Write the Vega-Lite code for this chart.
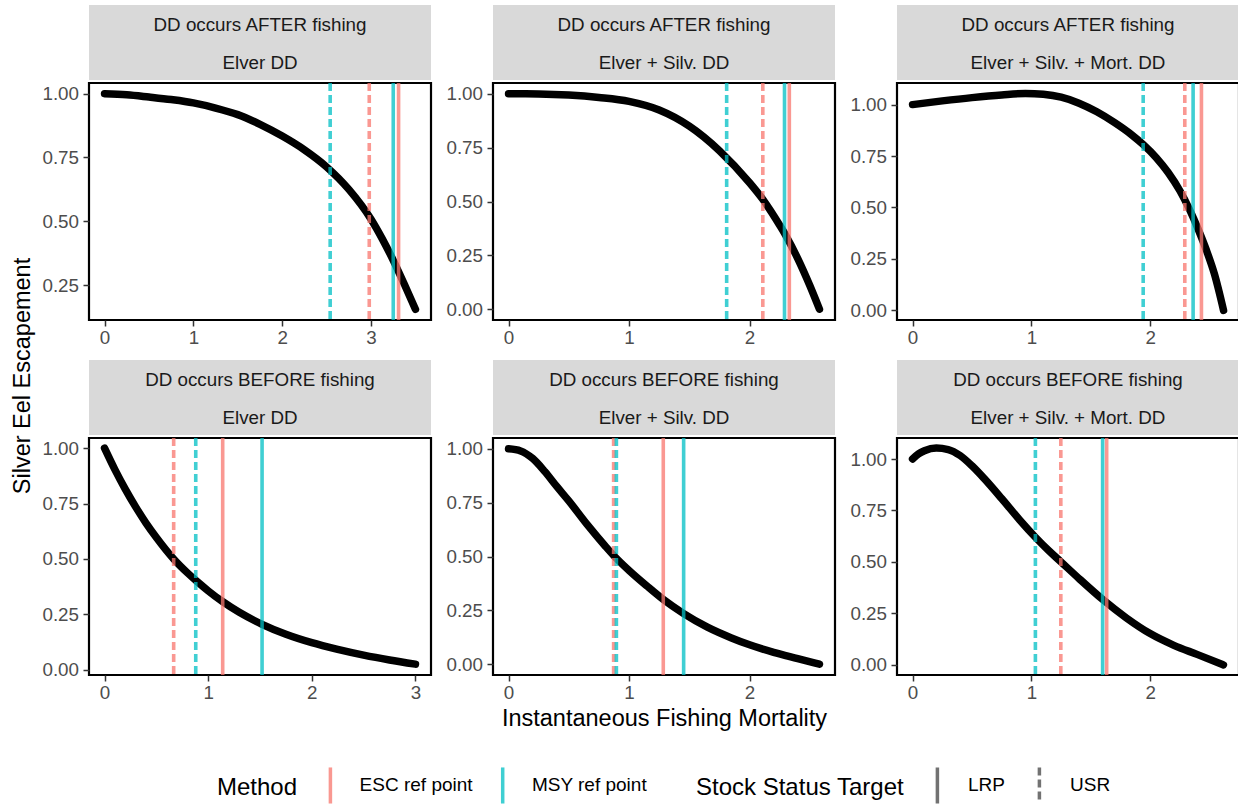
{
  "$schema": "https://vega.github.io/schema/vega-lite/v6.json",
  "padding": {"left": 11, "top": 5, "right": 0, "bottom": 0},
  "title": {"text": "Silver Eel Escapement", "orient": "left", "anchor": "middle", "fontSize": 23.5, "fontWeight": "normal", "color": "#000000", "offset": 6, "dx": 32},
  "datasets": {
    "strips": [
      {"panel": "p1", "line": 1, "label": "DD occurs AFTER fishing"}, {"panel": "p1", "line": 2, "label": "Elver DD"},
      {"panel": "p2", "line": 1, "label": "DD occurs AFTER fishing"}, {"panel": "p2", "line": 2, "label": "Elver + Silv. DD"},
      {"panel": "p3", "line": 1, "label": "DD occurs AFTER fishing"}, {"panel": "p3", "line": 2, "label": "Elver + Silv. + Mort. DD"},
      {"panel": "p4", "line": 1, "label": "DD occurs BEFORE fishing"}, {"panel": "p4", "line": 2, "label": "Elver DD"},
      {"panel": "p5", "line": 1, "label": "DD occurs BEFORE fishing"}, {"panel": "p5", "line": 2, "label": "Elver + Silv. DD"},
      {"panel": "p6", "line": 1, "label": "DD occurs BEFORE fishing"}, {"panel": "p6", "line": 2, "label": "Elver + Silv. + Mort. DD"}
    ],
    "curves": [
      {"panel": "p1", "F": 0, "esc": 1.0}, {"panel": "p1", "F": 0.25, "esc": 0.996}, {"panel": "p1", "F": 0.5, "esc": 0.987},
      {"panel": "p1", "F": 0.75, "esc": 0.977}, {"panel": "p1", "F": 1.0, "esc": 0.964}, {"panel": "p1", "F": 1.25, "esc": 0.944},
      {"panel": "p1", "F": 1.5, "esc": 0.918}, {"panel": "p1", "F": 1.75, "esc": 0.88}, {"panel": "p1", "F": 2.0, "esc": 0.834},
      {"panel": "p1", "F": 2.25, "esc": 0.78}, {"panel": "p1", "F": 2.5, "esc": 0.713}, {"panel": "p1", "F": 2.75, "esc": 0.625},
      {"panel": "p1", "F": 3.0, "esc": 0.508}, {"panel": "p1", "F": 3.125, "esc": 0.432}, {"panel": "p1", "F": 3.25, "esc": 0.347},
      {"panel": "p1", "F": 3.375, "esc": 0.253}, {"panel": "p1", "F": 3.5, "esc": 0.155},

      {"panel": "p2", "F": 0, "esc": 1.0}, {"panel": "p2", "F": 0.25, "esc": 0.999}, {"panel": "p2", "F": 0.5, "esc": 0.994},
      {"panel": "p2", "F": 0.75, "esc": 0.983}, {"panel": "p2", "F": 1.0, "esc": 0.965}, {"panel": "p2", "F": 1.25, "esc": 0.925},
      {"panel": "p2", "F": 1.5, "esc": 0.85}, {"panel": "p2", "F": 1.75, "esc": 0.736}, {"panel": "p2", "F": 2.0, "esc": 0.587},
      {"panel": "p2", "F": 2.11, "esc": 0.51}, {"panel": "p2", "F": 2.25, "esc": 0.39}, {"panel": "p2", "F": 2.3, "esc": 0.343},
      {"panel": "p2", "F": 2.4, "esc": 0.235}, {"panel": "p2", "F": 2.5, "esc": 0.11}, {"panel": "p2", "F": 2.58, "esc": 0.0},

      {"panel": "p3", "F": 0, "esc": 1.0}, {"panel": "p3", "F": 0.25, "esc": 1.018}, {"panel": "p3", "F": 0.5, "esc": 1.034},
      {"panel": "p3", "F": 0.75, "esc": 1.047}, {"panel": "p3", "F": 0.95, "esc": 1.054}, {"panel": "p3", "F": 1.1, "esc": 1.05},
      {"panel": "p3", "F": 1.25, "esc": 1.036}, {"panel": "p3", "F": 1.4, "esc": 1.007}, {"panel": "p3", "F": 1.55, "esc": 0.965},
      {"panel": "p3", "F": 1.7, "esc": 0.912}, {"panel": "p3", "F": 1.85, "esc": 0.85}, {"panel": "p3", "F": 1.94, "esc": 0.806},
      {"panel": "p3", "F": 2.05, "esc": 0.742}, {"panel": "p3", "F": 2.15, "esc": 0.67}, {"panel": "p3", "F": 2.25, "esc": 0.58},
      {"panel": "p3", "F": 2.33, "esc": 0.49}, {"panel": "p3", "F": 2.4, "esc": 0.398}, {"panel": "p3", "F": 2.47, "esc": 0.295},
      {"panel": "p3", "F": 2.54, "esc": 0.175}, {"panel": "p3", "F": 2.616, "esc": 0.0},

      {"panel": "p4", "F": 0, "esc": 1.0}, {"panel": "p4", "F": 0.1, "esc": 0.903}, {"panel": "p4", "F": 0.2, "esc": 0.815},
      {"panel": "p4", "F": 0.3, "esc": 0.735}, {"panel": "p4", "F": 0.4, "esc": 0.662}, {"panel": "p4", "F": 0.5, "esc": 0.597},
      {"panel": "p4", "F": 0.667, "esc": 0.5}, {"panel": "p4", "F": 0.8, "esc": 0.437}, {"panel": "p4", "F": 0.9, "esc": 0.395},
      {"panel": "p4", "F": 1.0, "esc": 0.356}, {"panel": "p4", "F": 1.14, "esc": 0.307}, {"panel": "p4", "F": 1.3, "esc": 0.259},
      {"panel": "p4", "F": 1.52, "esc": 0.205}, {"panel": "p4", "F": 1.75, "esc": 0.16}, {"panel": "p4", "F": 2.0, "esc": 0.122},
      {"panel": "p4", "F": 2.25, "esc": 0.092}, {"panel": "p4", "F": 2.5, "esc": 0.066}, {"panel": "p4", "F": 2.75, "esc": 0.044},
      {"panel": "p4", "F": 3.0, "esc": 0.025},

      {"panel": "p5", "F": 0, "esc": 1.0}, {"panel": "p5", "F": 0.1, "esc": 0.99}, {"panel": "p5", "F": 0.2, "esc": 0.955},
      {"panel": "p5", "F": 0.3, "esc": 0.895}, {"panel": "p5", "F": 0.4, "esc": 0.825}, {"panel": "p5", "F": 0.5, "esc": 0.758},
      {"panel": "p5", "F": 0.65, "esc": 0.65}, {"panel": "p5", "F": 0.8, "esc": 0.55}, {"panel": "p5", "F": 0.88, "esc": 0.5},
      {"panel": "p5", "F": 1.0, "esc": 0.435}, {"panel": "p5", "F": 1.15, "esc": 0.362}, {"panel": "p5", "F": 1.285, "esc": 0.3},
      {"panel": "p5", "F": 1.45, "esc": 0.236}, {"panel": "p5", "F": 1.65, "esc": 0.172}, {"panel": "p5", "F": 1.85, "esc": 0.122},
      {"panel": "p5", "F": 2.0, "esc": 0.09}, {"panel": "p5", "F": 2.2, "esc": 0.055}, {"panel": "p5", "F": 2.4, "esc": 0.026},
      {"panel": "p5", "F": 2.58, "esc": 0.0},

      {"panel": "p6", "F": 0, "esc": 1.0}, {"panel": "p6", "F": 0.05, "esc": 1.025}, {"panel": "p6", "F": 0.1, "esc": 1.04},
      {"panel": "p6", "F": 0.2, "esc": 1.053}, {"panel": "p6", "F": 0.3, "esc": 1.046}, {"panel": "p6", "F": 0.4, "esc": 1.017},
      {"panel": "p6", "F": 0.5, "esc": 0.967}, {"panel": "p6", "F": 0.6, "esc": 0.907}, {"panel": "p6", "F": 0.75, "esc": 0.808},
      {"panel": "p6", "F": 0.9, "esc": 0.705}, {"panel": "p6", "F": 1.034, "esc": 0.62}, {"panel": "p6", "F": 1.15, "esc": 0.553},
      {"panel": "p6", "F": 1.25, "esc": 0.5}, {"panel": "p6", "F": 1.4, "esc": 0.42}, {"panel": "p6", "F": 1.6, "esc": 0.318},
      {"panel": "p6", "F": 1.8, "esc": 0.228}, {"panel": "p6", "F": 2.0, "esc": 0.152}, {"panel": "p6", "F": 2.2, "esc": 0.095},
      {"panel": "p6", "F": 2.4, "esc": 0.05}, {"panel": "p6", "F": 2.617, "esc": 0.0}
    ],
    "refs": [
      {"panel": "p1", "method": "ESC ref point", "target": "LRP", "F": 3.31}, {"panel": "p1", "method": "ESC ref point", "target": "USR", "F": 2.98},
      {"panel": "p1", "method": "MSY ref point", "target": "LRP", "F": 3.25}, {"panel": "p1", "method": "MSY ref point", "target": "USR", "F": 2.54},
      {"panel": "p2", "method": "ESC ref point", "target": "LRP", "F": 2.33}, {"panel": "p2", "method": "ESC ref point", "target": "USR", "F": 2.11},
      {"panel": "p2", "method": "MSY ref point", "target": "LRP", "F": 2.29}, {"panel": "p2", "method": "MSY ref point", "target": "USR", "F": 1.81},
      {"panel": "p3", "method": "ESC ref point", "target": "LRP", "F": 2.43}, {"panel": "p3", "method": "ESC ref point", "target": "USR", "F": 2.29},
      {"panel": "p3", "method": "MSY ref point", "target": "LRP", "F": 2.36}, {"panel": "p3", "method": "MSY ref point", "target": "USR", "F": 1.94},
      {"panel": "p4", "method": "ESC ref point", "target": "LRP", "F": 1.14}, {"panel": "p4", "method": "ESC ref point", "target": "USR", "F": 0.667},
      {"panel": "p4", "method": "MSY ref point", "target": "LRP", "F": 1.52}, {"panel": "p4", "method": "MSY ref point", "target": "USR", "F": 0.88},
      {"panel": "p5", "method": "ESC ref point", "target": "LRP", "F": 1.284}, {"panel": "p5", "method": "ESC ref point", "target": "USR", "F": 0.872},
      {"panel": "p5", "method": "MSY ref point", "target": "LRP", "F": 1.453}, {"panel": "p5", "method": "MSY ref point", "target": "USR", "F": 0.895},
      {"panel": "p6", "method": "ESC ref point", "target": "LRP", "F": 1.634}, {"panel": "p6", "method": "ESC ref point", "target": "USR", "F": 1.248},
      {"panel": "p6", "method": "MSY ref point", "target": "LRP", "F": 1.6}, {"panel": "p6", "method": "MSY ref point", "target": "USR", "F": 1.034}
    ]
  },
  "columns": 3,
  "spacing": {"row": 11, "column": 11},
  "concat": [
    {"spacing": 0, "vconcat": [
      {"width": 342, "height": 75, "view": {"fill": "#D9D9D9", "stroke": null}, "data": {"name": "strips"},
       "transform": [{"filter": "datum.panel == 'p1'"}],
       "mark": {"type": "text", "fontSize": 18.8, "color": "#1A1A1A", "baseline": "middle", "dy": 1.5},
       "encoding": {"y": {"field": "line", "type": "ordinal", "axis": null}, "text": {"field": "label"}}},
      {"width": 342, "height": 237, "view": {"stroke": "#000000", "strokeWidth": 2.2},
       "layer": [
        {"data": {"name": "curves"}, "transform": [{"filter": "datum.panel == 'p1'"}],
         "mark": {"type": "line", "color": "#000000", "strokeWidth": 7.5, "strokeCap": "round", "strokeJoin": "round", "interpolate": "monotone"},
         "encoding": {
          "x": {"field": "F", "type": "quantitative", "scale": {"domain": [-0.175, 3.675], "nice": false, "zero": false}, "axis": {"values": [0, 1, 2, 3], "format": "d", "title": null}},
          "y": {"field": "esc", "type": "quantitative", "scale": {"domain": [0.113, 1.042], "nice": false, "zero": false}, "axis": {"values": [0.25, 0.5, 0.75, 1], "format": ".2f", "title": null}}}},
        {"data": {"name": "refs"}, "transform": [{"filter": "datum.panel == 'p1'"}],
         "mark": {"type": "rule", "strokeWidth": 3.6, "opacity": 0.75},
         "encoding": {
          "x": {"field": "F", "type": "quantitative", "scale": {"domain": [-0.175, 3.675], "nice": false, "zero": false}},
          "color": {"field": "method", "type": "nominal", "scale": {"domain": ["ESC ref point", "MSY ref point"], "range": ["#F8766D", "#00BFC4"]},
                    "legend": {"title": "Method", "orient": "none", "legendX": 128, "legendY": 760, "direction": "horizontal", "titleOrient": "left", "symbolType": "M0,-1L0,1", "symbolSize": 1300, "symbolStrokeWidth": 3.5, "symbolOpacity": 0.75, "labelOffset": 9.2, "columnPadding": 9.3, "titlePadding": 12.4}},
          "strokeDash": {"field": "target", "type": "nominal", "scale": {"domain": ["LRP", "USR"], "range": [[1, 0], [8, 4]]},
                    "legend": {"title": "Stock Status Target", "orient": "none", "legendX": 607, "legendY": 760, "direction": "horizontal", "titleOrient": "left", "symbolType": "M0,-1L0,1", "symbolSize": 1300, "symbolStrokeWidth": 3.5, "symbolStrokeColor": "#444444", "symbolOpacity": 1, "labelOffset": 10.6, "columnPadding": 14, "titlePadding": 12.4}}}}
       ]}
    ]},
    {"spacing": 0, "vconcat": [
      {"width": 342, "height": 75, "view": {"fill": "#D9D9D9", "stroke": null}, "data": {"name": "strips"},
       "transform": [{"filter": "datum.panel == 'p2'"}],
       "mark": {"type": "text", "fontSize": 18.8, "color": "#1A1A1A", "baseline": "middle", "dy": 1.5},
       "encoding": {"y": {"field": "line", "type": "ordinal", "axis": null}, "text": {"field": "label"}}},
      {"width": 342, "height": 237, "view": {"stroke": "#000000", "strokeWidth": 2.2},
       "layer": [
        {"data": {"name": "curves"}, "transform": [{"filter": "datum.panel == 'p2'"}],
         "mark": {"type": "line", "color": "#000000", "strokeWidth": 7.5, "strokeCap": "round", "strokeJoin": "round", "interpolate": "monotone"},
         "encoding": {
          "x": {"field": "F", "type": "quantitative", "scale": {"domain": [-0.129, 2.709], "nice": false, "zero": false}, "axis": {"values": [0, 1, 2], "format": "d", "title": null}},
          "y": {"field": "esc", "type": "quantitative", "scale": {"domain": [-0.05, 1.05], "nice": false, "zero": false}, "axis": {"values": [0, 0.25, 0.5, 0.75, 1], "format": ".2f", "title": null}}}},
        {"data": {"name": "refs"}, "transform": [{"filter": "datum.panel == 'p2'"}],
         "mark": {"type": "rule", "strokeWidth": 3.6, "opacity": 0.75},
         "encoding": {
          "x": {"field": "F", "type": "quantitative", "scale": {"domain": [-0.129, 2.709], "nice": false, "zero": false}},
          "color": {"field": "method", "type": "nominal"},
          "strokeDash": {"field": "target", "type": "nominal"}}}
       ]}
    ]},
    {"spacing": 0, "vconcat": [
      {"width": 342, "height": 75, "view": {"fill": "#D9D9D9", "stroke": null}, "data": {"name": "strips"},
       "transform": [{"filter": "datum.panel == 'p3'"}],
       "mark": {"type": "text", "fontSize": 18.8, "color": "#1A1A1A", "baseline": "middle", "dy": 1.5},
       "encoding": {"y": {"field": "line", "type": "ordinal", "axis": null}, "text": {"field": "label"}}},
      {"width": 342, "height": 237, "view": {"stroke": "#000000", "strokeWidth": 2.2},
       "layer": [
        {"data": {"name": "curves"}, "transform": [{"filter": "datum.panel == 'p3'"}],
         "mark": {"type": "line", "color": "#000000", "strokeWidth": 7.5, "strokeCap": "round", "strokeJoin": "round", "interpolate": "monotone"},
         "encoding": {
          "x": {"field": "F", "type": "quantitative", "scale": {"domain": [-0.131, 2.746], "nice": false, "zero": false}, "axis": {"values": [0, 1, 2], "format": "d", "title": null}},
          "y": {"field": "esc", "type": "quantitative", "scale": {"domain": [-0.047, 1.105], "nice": false, "zero": false}, "axis": {"values": [0, 0.25, 0.5, 0.75, 1], "format": ".2f", "title": null}}}},
        {"data": {"name": "refs"}, "transform": [{"filter": "datum.panel == 'p3'"}],
         "mark": {"type": "rule", "strokeWidth": 3.6, "opacity": 0.75},
         "encoding": {
          "x": {"field": "F", "type": "quantitative", "scale": {"domain": [-0.131, 2.746], "nice": false, "zero": false}},
          "color": {"field": "method", "type": "nominal"},
          "strokeDash": {"field": "target", "type": "nominal"}}}
       ]}
    ]},
    {"spacing": 0, "vconcat": [
      {"width": 342, "height": 75, "view": {"fill": "#D9D9D9", "stroke": null}, "data": {"name": "strips"},
       "transform": [{"filter": "datum.panel == 'p4'"}],
       "mark": {"type": "text", "fontSize": 18.8, "color": "#1A1A1A", "baseline": "middle", "dy": 1.5},
       "encoding": {"y": {"field": "line", "type": "ordinal", "axis": null}, "text": {"field": "label"}}},
      {"width": 342, "height": 237, "view": {"stroke": "#000000", "strokeWidth": 2.2},
       "layer": [
        {"data": {"name": "curves"}, "transform": [{"filter": "datum.panel == 'p4'"}],
         "mark": {"type": "line", "color": "#000000", "strokeWidth": 7.5, "strokeCap": "round", "strokeJoin": "round", "interpolate": "monotone"},
         "encoding": {
          "x": {"field": "F", "type": "quantitative", "scale": {"domain": [-0.15, 3.15], "nice": false, "zero": false}, "axis": {"values": [0, 1, 2, 3], "format": "d", "title": null}},
          "y": {"field": "esc", "type": "quantitative", "scale": {"domain": [-0.024, 1.046], "nice": false, "zero": false}, "axis": {"values": [0, 0.25, 0.5, 0.75, 1], "format": ".2f", "title": null}}}},
        {"data": {"name": "refs"}, "transform": [{"filter": "datum.panel == 'p4'"}],
         "mark": {"type": "rule", "strokeWidth": 3.6, "opacity": 0.75},
         "encoding": {
          "x": {"field": "F", "type": "quantitative", "scale": {"domain": [-0.15, 3.15], "nice": false, "zero": false}},
          "color": {"field": "method", "type": "nominal"},
          "strokeDash": {"field": "target", "type": "nominal"}}}
       ]}
    ]},
    {"spacing": 0, "vconcat": [
      {"width": 342, "height": 75, "view": {"fill": "#D9D9D9", "stroke": null}, "data": {"name": "strips"},
       "transform": [{"filter": "datum.panel == 'p5'"}],
       "mark": {"type": "text", "fontSize": 18.8, "color": "#1A1A1A", "baseline": "middle", "dy": 1.5},
       "encoding": {"y": {"field": "line", "type": "ordinal", "axis": null}, "text": {"field": "label"}}},
      {"width": 342, "height": 237, "view": {"stroke": "#000000", "strokeWidth": 2.2},
       "layer": [
        {"data": {"name": "curves"}, "transform": [{"filter": "datum.panel == 'p5'"}],
         "mark": {"type": "line", "color": "#000000", "strokeWidth": 7.5, "strokeCap": "round", "strokeJoin": "round", "interpolate": "monotone"},
         "encoding": {
          "x": {"field": "F", "type": "quantitative", "scale": {"domain": [-0.129, 2.709], "nice": false, "zero": false}, "axis": {"values": [0, 1, 2], "format": "d", "title": "Instantaneous Fishing Mortality"}},
          "y": {"field": "esc", "type": "quantitative", "scale": {"domain": [-0.05, 1.05], "nice": false, "zero": false}, "axis": {"values": [0, 0.25, 0.5, 0.75, 1], "format": ".2f", "title": null}}}},
        {"data": {"name": "refs"}, "transform": [{"filter": "datum.panel == 'p5'"}],
         "mark": {"type": "rule", "strokeWidth": 3.6, "opacity": 0.75},
         "encoding": {
          "x": {"field": "F", "type": "quantitative", "scale": {"domain": [-0.129, 2.709], "nice": false, "zero": false}},
          "color": {"field": "method", "type": "nominal"},
          "strokeDash": {"field": "target", "type": "nominal"}}}
       ]}
    ]},
    {"spacing": 0, "vconcat": [
      {"width": 342, "height": 75, "view": {"fill": "#D9D9D9", "stroke": null}, "data": {"name": "strips"},
       "transform": [{"filter": "datum.panel == 'p6'"}],
       "mark": {"type": "text", "fontSize": 18.8, "color": "#1A1A1A", "baseline": "middle", "dy": 1.5},
       "encoding": {"y": {"field": "line", "type": "ordinal", "axis": null}, "text": {"field": "label"}}},
      {"width": 342, "height": 237, "view": {"stroke": "#000000", "strokeWidth": 2.2},
       "layer": [
        {"data": {"name": "curves"}, "transform": [{"filter": "datum.panel == 'p6'"}],
         "mark": {"type": "line", "color": "#000000", "strokeWidth": 7.5, "strokeCap": "round", "strokeJoin": "round", "interpolate": "monotone"},
         "encoding": {
          "x": {"field": "F", "type": "quantitative", "scale": {"domain": [-0.131, 2.748], "nice": false, "zero": false}, "axis": {"values": [0, 1, 2], "format": "d", "title": null}},
          "y": {"field": "esc", "type": "quantitative", "scale": {"domain": [-0.049, 1.102], "nice": false, "zero": false}, "axis": {"values": [0, 0.25, 0.5, 0.75, 1], "format": ".2f", "title": null}}}},
        {"data": {"name": "refs"}, "transform": [{"filter": "datum.panel == 'p6'"}],
         "mark": {"type": "rule", "strokeWidth": 3.6, "opacity": 0.75},
         "encoding": {
          "x": {"field": "F", "type": "quantitative", "scale": {"domain": [-0.131, 2.748], "nice": false, "zero": false}},
          "color": {"field": "method", "type": "nominal"},
          "strokeDash": {"field": "target", "type": "nominal"}}}
       ]}
    ]}
  ],
  "config": {
    "font": "Liberation Sans",
    "view": {"stroke": null},
    "axis": {"grid": false, "domain": false, "tickColor": "#333333", "tickWidth": 1.5, "tickSize": 6, "labelColor": "#4D4D4D", "labelFontSize": 18.8, "labelFont": "Liberation Sans", "titleFont": "Liberation Sans", "titleFontSize": 23.5, "titleFontWeight": "normal", "titleColor": "#000000", "titlePadding": 4},
    "axisX": {"labelPadding": 2.5},
    "axisY": {"labelPadding": 4.5},
    "legend": {"labelFontSize": 19, "labelColor": "#000000", "titleFontSize": 24, "titleFontWeight": "normal", "titleColor": "#000000", "labelFont": "Liberation Sans", "titleFont": "Liberation Sans", "padding": 0, "titleBaseline": "middle", "titleAnchor": "middle", "labelLimit": 300, "titleLimit": 400},
    "title": {"font": "Liberation Sans"}
  }
}
